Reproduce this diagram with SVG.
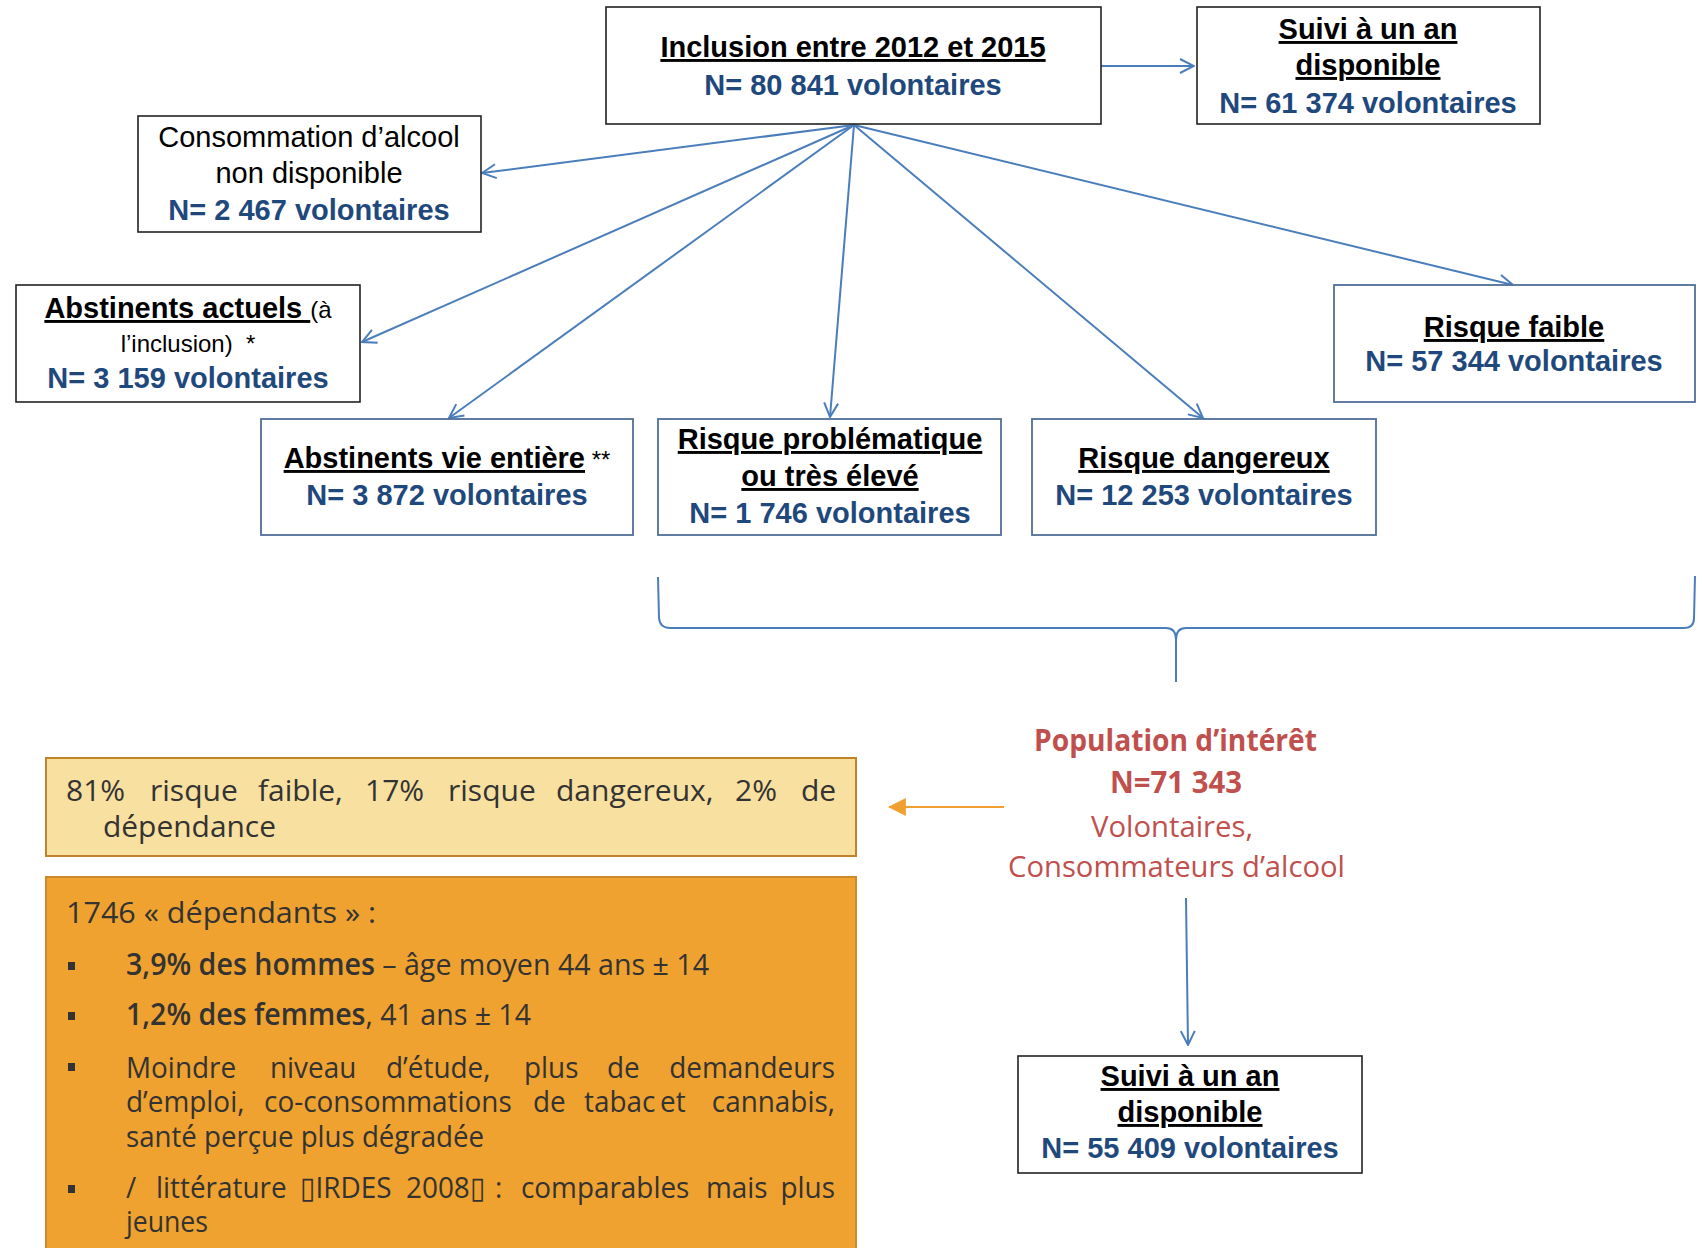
<svg xmlns="http://www.w3.org/2000/svg" width="1703" height="1248" viewBox="0 0 1703 1248">
<style>
.bk{fill:#fff;stroke:#222;stroke-width:1.6}
.bb{fill:#fff;stroke:#4F6E98;stroke-width:1.8}
.t{font-family:"Liberation Sans",Arial,sans-serif;font-size:29px;text-anchor:middle}
.h{font-weight:bold;fill:#000;text-decoration:underline}
.n{font-weight:bold;fill:#1F497D}
.r{fill:#000}
.sm{font-size:24px;font-weight:normal;text-decoration:none;fill:#000}
.c{stroke:#4A7EBB;stroke-width:2;fill:none}
.o{font-family:"Open Sans","Noto Sans",sans-serif;font-size:30px;fill:#333}
.p{font-family:"Open Sans","Noto Sans",sans-serif;font-size:30px;fill:#C0504D}
.e{text-anchor:end}
</style>
<defs>
<marker id="oa" viewBox="0 0 16 16" refX="15" refY="8" markerWidth="16" markerHeight="16" markerUnits="userSpaceOnUse" orient="auto">
<path d="M1,1 L15,8 L1,15" fill="none" stroke="#4A7EBB" stroke-width="2"/>
</marker>
<marker id="fa" viewBox="0 0 16 16" refX="15" refY="8" markerWidth="18" markerHeight="18" markerUnits="userSpaceOnUse" orient="auto">
<path d="M0,0 L16,8 L0,16 Z" fill="#F0A030"/>
</marker>
</defs>

<g id="connectors">
<line class="c" x1="1101" y1="66" x2="1194" y2="66" marker-end="url(#oa)"/>
<line class="c" x1="854" y1="125" x2="482" y2="173" marker-end="url(#oa)"/>
<line class="c" x1="854" y1="125" x2="362" y2="342" marker-end="url(#oa)"/>
<line class="c" x1="854" y1="125" x2="449" y2="418" marker-end="url(#oa)"/>
<line class="c" x1="854" y1="125" x2="830" y2="417" marker-end="url(#oa)"/>
<line class="c" x1="854" y1="125" x2="1203" y2="418" marker-end="url(#oa)"/>
<line class="c" x1="854" y1="125" x2="1513" y2="285" marker-end="url(#oa)"/>
<path class="c" d="M658,577 L659,618 Q660,628 670,628 L1166,628 Q1176,628 1176,640 L1176,682 M1176,640 Q1176,628 1186,628 L1684,628 Q1694,628 1694,618 L1695,576"/>
<line class="c" x1="1186" y1="898" x2="1188" y2="1045" marker-end="url(#oa)"/>
<line x1="1004" y1="807" x2="889" y2="807" stroke="#F0A030" stroke-width="2" marker-end="url(#fa)"/>
</g>

<g id="inclusion">
<rect class="bk" x="606" y="7" width="495" height="117"/>
<text class="t h" x="853" y="57">Inclusion entre 2012 et 2015</text>
<text class="t n" x="853" y="95">N= 80 841 volontaires</text>
</g>

<g id="suivi-1">
<rect class="bk" x="1197" y="7" width="343" height="117"/>
<text class="t h" x="1368" y="39">Suivi à un an</text>
<text class="t h" x="1368" y="75">disponible</text>
<text class="t n" x="1368" y="113">N= 61 374 volontaires</text>
</g>

<g id="consommation">
<rect class="bk" x="138" y="116" width="343" height="116"/>
<text class="t r" x="309" y="147">Consommation d’alcool</text>
<text class="t r" x="309" y="183">non disponible</text>
<text class="t n" x="309" y="220">N= 2 467 volontaires</text>
</g>

<g id="abstinents-actuels">
<rect class="bk" x="16" y="285" width="344" height="117"/>
<text class="t" x="188" y="318"><tspan class="h">Abstinents actuels </tspan><tspan class="sm">(à</tspan></text>
<text class="t sm" x="188" y="352">l’inclusion)&#160; *</text>
<text class="t n" x="188" y="388">N= 3 159 volontaires</text>
</g>

<g id="risque-faible">
<rect class="bb" x="1334" y="285" width="361" height="117"/>
<text class="t h" x="1514" y="337">Risque faible</text>
<text class="t n" x="1514" y="371">N= 57 344 volontaires</text>
</g>

<g id="abstinents-vie">
<rect class="bb" x="261" y="419" width="372" height="116"/>
<text class="t" x="447" y="468"><tspan class="h">Abstinents vie entière</tspan><tspan class="sm"> **</tspan></text>
<text class="t n" x="447" y="505">N= 3 872 volontaires</text>
</g>

<g id="risque-problematique">
<rect class="bb" x="658" y="419" width="343" height="116"/>
<text class="t h" x="830" y="449">Risque problématique</text>
<text class="t h" x="830" y="486">ou très élevé</text>
<text class="t n" x="830" y="523">N= 1 746 volontaires</text>
</g>

<g id="risque-dangereux">
<rect class="bb" x="1032" y="419" width="344" height="116"/>
<text class="t h" x="1204" y="468">Risque dangereux</text>
<text class="t n" x="1204" y="505">N= 12 253 volontaires</text>
</g>

<g id="population">
<text class="p" x="1034" y="751" font-weight="bold" textLength="283" lengthAdjust="spacingAndGlyphs">Population d’intérêt</text>
<text class="p" x="1110" y="793" font-weight="bold" textLength="132" lengthAdjust="spacingAndGlyphs">N=71 343</text>
<text class="p" x="1091" y="837" textLength="162" lengthAdjust="spacingAndGlyphs">Volontaires,</text>
<text class="p" x="1008" y="877" textLength="337" lengthAdjust="spacingAndGlyphs">Consommateurs d’alcool</text>
</g>

<g id="suivi-2">
<rect class="bk" x="1018" y="1056" width="344" height="117"/>
<text class="t h" x="1190" y="1086">Suivi à un an</text>
<text class="t h" x="1190" y="1122">disponible</text>
<text class="t n" x="1190" y="1158">N= 55 409 volontaires</text>
</g>

<g id="repartition">
<rect x="46" y="758" width="810" height="98" fill="#F8E0A0" stroke="#C0832A" stroke-width="2"/>
<text class="o" y="801"><tspan x="66">81%</tspan><tspan x="150">risque</tspan><tspan x="258">faible,</tspan><tspan x="365">17%</tspan><tspan x="448">risque</tspan><tspan x="556">dangereux,</tspan><tspan x="735">2%</tspan><tspan x="801">de</tspan></text>
<text class="o" x="103" y="837" textLength="173" lengthAdjust="spacingAndGlyphs">dépendance</text>
</g>

<g id="dependants">
<rect x="46" y="877" width="810" height="390" fill="#EFA22F" stroke="#CC8A2A" stroke-width="2"/>
<text class="o" x="66" y="923" textLength="310" lengthAdjust="spacingAndGlyphs">1746 « dépendants » :</text>
<g fill="#333">
<rect x="68" y="962" width="7" height="8"/>
<rect x="68" y="1012" width="7" height="8"/>
<rect x="68" y="1063" width="7" height="8"/>
<rect x="68" y="1185" width="7" height="8"/>
</g>
<text class="o" x="126" y="975" textLength="583" lengthAdjust="spacingAndGlyphs"><tspan font-weight="600">3,9% des hommes</tspan> – âge moyen 44 ans ± 14</text>
<text class="o" x="126" y="1025" textLength="405" lengthAdjust="spacingAndGlyphs"><tspan font-weight="600">1,2% des femmes</tspan>, 41 ans ± 14</text>
<g transform="scale(0.93,1)">
<text class="o" y="1078"><tspan x="135.5">Moindre</tspan><tspan x="290.3">niveau</tspan><tspan x="415.1">d’étude,</tspan><tspan x="563.4">plus</tspan><tspan x="652.7">de</tspan></text>
<text class="o e" x="897.8" y="1078">demandeurs</text>
<text class="o" y="1112"><tspan x="135.5">d’emploi,</tspan><tspan x="283.9">co-consommations</tspan><tspan x="573.1">de</tspan><tspan x="628">tabac</tspan><tspan x="709.7">et</tspan></text>
<text class="o e" x="897.8" y="1112">cannabis,</text>
<text class="o" y="1198"><tspan x="135.5">/</tspan><tspan x="167.7">littérature</tspan><tspan x="322.6">▯IRDES</tspan><tspan x="436.6">2008▯</tspan><tspan x="532.3">:</tspan><tspan x="560.2">comparables</tspan><tspan x="759.1">mais</tspan></text>
<text class="o e" x="897.8" y="1198">plus</text>
</g>
<text class="o" x="126" y="1147" textLength="358" lengthAdjust="spacingAndGlyphs">santé perçue plus dégradée</text>
<text class="o" x="126" y="1232" textLength="82" lengthAdjust="spacingAndGlyphs">jeunes</text>
</g>
</svg>
